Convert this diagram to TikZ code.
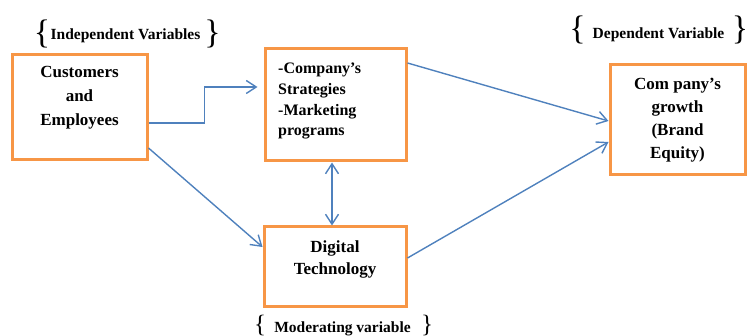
\documentclass[tikz,border=0pt]{standalone}
\usepackage{fontspec}
\setmainfont{Liberation Serif}
\usetikzlibrary{arrows.meta}
\definecolor{boxorange}{HTML}{F79646}
\definecolor{linkblue}{HTML}{4F81BD}
\tikzset{
  varbox/.style={draw=boxorange, line width=3pt, rectangle, fill=white},
  boxtext/.style={inner sep=0pt, font=\bfseries\fontsize{17}{23.5}\selectfont, align=center},
  tagtext/.style={inner sep=0pt, anchor=base, font=\bfseries\fontsize{15.5}{18}\selectfont},
  bracket/.style={inner sep=0pt, font=\fontsize{34}{34}\selectfont},
  smallbracket/.style={inner sep=0pt, font=\fontsize{25}{25}\selectfont},
  link/.style={draw=linkblue, line width=1.4pt, -{Straight Barb[length=10pt,width=13pt]}},
  twoway/.style={draw=linkblue, line width=1.4pt, {Straight Barb[length=10pt,width=13pt]}-{Straight Barb[length=10pt,width=13pt]}}
}
\begin{document}
\begin{tikzpicture}[x=1pt,y=-1pt]
\useasboundingbox (0,0) rectangle (749,336);

% boxes
\node[varbox, minimum width=135pt, minimum height=105pt] (b1) at (79.5,107.5) {};
\node[varbox, minimum width=141pt, minimum height=112pt] (b2) at (335.5,105) {};
\node[varbox, minimum width=135pt, minimum height=110pt] (b3) at (677.5,120) {};
\node[varbox, minimum width=142pt, minimum height=80pt] (b4) at (335,267) {};

% box contents
\node[boxtext, anchor=north, font=\bfseries\fontsize{17}{24}\selectfont] (t1) at (79.5,66) {Customers\\and\\Employees};
\node[boxtext, anchor=north west, align=left, font=\bfseries\fontsize{16}{20.7}\selectfont] (t2) at (278,63) {-Company’s\\Strategies\\-Marketing\\programs};
\node[boxtext, anchor=north, font=\bfseries\fontsize{17}{23}\selectfont] (t3) at (677.5,77.5) {Com pany’s\\growth\\(Brand\\Equity)};
\node[boxtext, anchor=north, font=\bfseries\fontsize{17}{22}\selectfont] (t4) at (335,240.5) {Digital\\Technology};

% variable tags with braces
\node[tagtext] (g1) at (125.5,39.5) {Independent Variables};
\node[bracket] (g1l) at (42,33.5) {\{};
\node[bracket] (g1r) at (212.5,33.5) {\}};

\node[tagtext] (g2) at (658.5,39) {Dependent Variable};
\node[bracket] (g2l) at (577.5,29.5) {\{};
\node[bracket] (g2r) at (740,29.5) {\}};

\node[tagtext] (g3) at (342.5,332) {Moderating variable};
\node[smallbracket] (g3l) at (260,325) {\{};
\node[smallbracket] (g3r) at (427,325) {\}};

% connectors
\draw[link, shorten >=6pt] ([yshift=-15.5pt]b1.east) -- ([xshift=56pt,yshift=-15.5pt]b1.east) |- ([yshift=18pt]b2.west);
\draw[link] ([yshift=-40.5pt]b1.east) -- ([yshift=20pt]b4.west);
\draw[link] ([yshift=42pt]b2.east) -- ([yshift=-1pt]b3.west);
\draw[link] ([yshift=9pt]b4.east) -- ([yshift=-22pt]b3.west);
\draw[twoway] ([xshift=-3.5pt]b2.south) -- ([xshift=-3pt]b4.north);
\end{tikzpicture}
\end{document}
